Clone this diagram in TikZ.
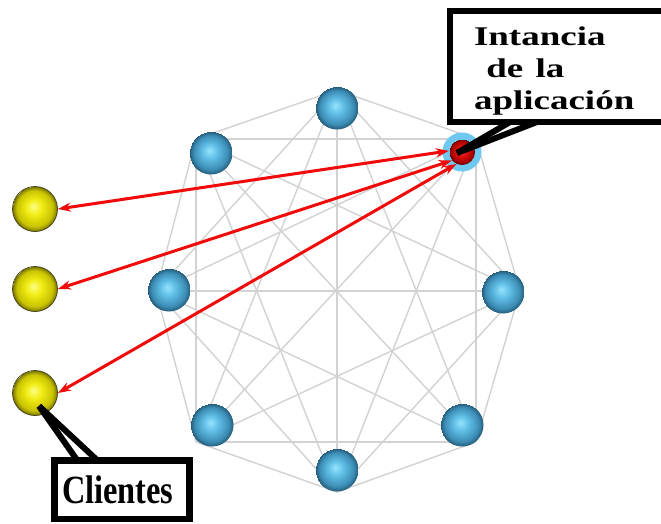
\documentclass[tikz,border=0pt]{standalone}
\usepackage{fontspec}
\setmainfont{Liberation Serif}
\usetikzlibrary{arrows.meta,calc}
\definecolor{bA}{RGB}{150,228,252}
\definecolor{bB}{RGB}{95,190,230}
\definecolor{bC}{RGB}{60,140,180}
\definecolor{bD}{RGB}{35,90,120}
\definecolor{yA}{RGB}{255,255,130}
\definecolor{yB}{RGB}{240,235,20}
\definecolor{yC}{RGB}{200,195,0}
\definecolor{yD}{RGB}{120,115,0}
\definecolor{rA}{RGB}{255,90,80}
\definecolor{rB}{RGB}{225,20,15}
\definecolor{rC}{RGB}{170,0,0}
\definecolor{rD}{RGB}{100,0,0}
\definecolor{ringblue}{RGB}{110,200,240}
\definecolor{linkgray}{RGB}{210,210,210}
\definecolor{arrowred}{RGB}{240,10,10}
\pgfdeclareradialshading{bluesph}{\pgfpoint{-2bp}{3bp}}{color(0bp)=(bA); color(9bp)=(bB); color(20bp)=(bC); color(25bp)=(bD)}
\pgfdeclareradialshading{yelsph}{\pgfpoint{-2bp}{3bp}}{color(0bp)=(yA); color(9bp)=(yB); color(20bp)=(yC); color(25bp)=(yD)}
\pgfdeclareradialshading{redsph}{\pgfpoint{-2bp}{3bp}}{color(0bp)=(rA); color(9bp)=(rB); color(20bp)=(rC); color(25bp)=(rD)}
\begin{document}
\begin{tikzpicture}[x=1pt,y=-1pt,
  graylink/.style={draw=linkgray, line width=1.4pt},
  bluenode/.style={circle, minimum size=43pt, inner sep=0pt, shade, shading=bluesph},
  ringnode/.style={circle, fill=ringblue, minimum size=39pt, inner sep=0pt},
  redball/.style={circle, minimum size=26pt, inner sep=0pt, shade, shading=redsph},
  client/.style={circle, minimum size=45pt, inner sep=0pt, shade, shading=yelsph, draw={rgb,255:red,70;green,70;blue,20}, line width=0.8pt},
  redarrow/.style={draw=arrowred, line width=3pt, {Stealth[length=13pt,width=9pt]}-{Stealth[length=13pt,width=9pt]}},
  pointer/.style={draw=black, line width=6pt},
  labelbox/.style={draw=black, fill=white, inner ysep=0pt, align=left}
]
\useasboundingbox (0,0) rectangle (661,523);
\clip (0,0) rectangle (661,523);
\fill[white] (0,0) rectangle (661,523);
% vertices of the complete graph
\coordinate (v1) at (337,90);
\coordinate (v2) at (476,139);
\coordinate (v3) at (520,291);
\coordinate (v4) at (476,442);
\coordinate (v5) at (337,492);
\coordinate (v6) at (196,442);
\coordinate (v7) at (156,291);
\coordinate (v8) at (196,139);
\foreach \i in {1,...,8}{\foreach \j in {1,...,8}{\ifnum\i<\j \draw[graylink] (v\i) -- (v\j);\fi}}
% peers
\node[bluenode] (n1) at (337,108) {};
\node[ringnode] (n2) at (462,152) {};
\node[bluenode] (n3) at (503,292) {};
\node[bluenode] (n4) at (462,425) {};
\node[bluenode] (n5) at (337,470) {};
\node[bluenode] (n6) at (212,425) {};
\node[bluenode] (n7) at (169,290) {};
\node[bluenode] (n8) at (211,153) {};
% clients
\node[client] (c1) at (35,209) {};
\node[client] (c2) at (35,289) {};
\node[client] (c3) at (35,393) {};
% red ball of the application instance
\node[redball] (rb) at (n2.center) {};
% red arrows
\draw[redarrow] (rb.175) -- (c1.east);
\draw[redarrow] (rb.220) -- (c2.east);
\draw[redarrow] (rb.245) -- (c3.east);
% label boxes
\node[labelbox, line width=6pt, anchor=north west, inner xsep=24pt, text width=200pt,
  text height=34pt, text depth=77pt, font=\bfseries\fontsize{27}{32}\selectfont]
  (lbl) at (447,8) {\scalebox{1.37}[1]{Intancia}\\\scalebox{1.37}[1]{\ de la}\\\scalebox{1.37}[1]{aplicación}};
\node[labelbox, line width=6.5pt, anchor=north west, inner xsep=7.75pt, text width=119.5pt,
  text height=42.75pt, text depth=16pt, font=\bfseries\fontsize{40}{44}\selectfont]
  (clbl) at (51,457) {\scalebox{0.81}[1]{Clientes}};
% pointers
\coordinate (itip) at (457,153);
\draw[pointer] (itip) -- ($(lbl.south west)!0.248!(lbl.south east)+(0,-3)$);
\draw[pointer] (itip) -- ($(lbl.south west)!0.354!(lbl.south east)+(0,-3)$);
\coordinate (ctip) at ($(c3.center)+(4,13)$);
\draw[pointer] (ctip) -- ($(clbl.north west)!0.184!(clbl.north east)+(0,3)$);
\draw[pointer] (ctip) -- ($(clbl.north west)!0.325!(clbl.north east)+(0,3)$);
\end{tikzpicture}
\end{document}
